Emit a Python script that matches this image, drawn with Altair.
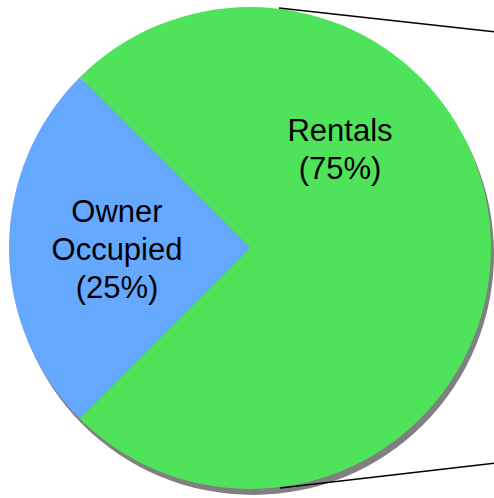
import math
import altair as alt
import pandas as pd

categories = ["Rentals", "Owner Occupied"]
shares = [75, 25]
labels = ["Rentals\n(75%)", "Owner\nOccupied\n(25%)"]
colors = ["#4fe35b", "#64a8ff"]

df = pd.DataFrame({
    "category": categories,
    "share": shares,
    "label": labels,
    "order": [0, 1],
})

start = 7 * math.pi / 4
theta_scale = alt.Scale(domain=[0, 100], range=[start, start + 2 * math.pi])

base = alt.Chart(df)

shadow = base.mark_arc(radius=241, color="#808080").encode(
    theta=alt.Theta("share:Q", stack=True, scale=theta_scale),
    order=alt.Order("order:Q"),
    x=alt.value(253),
    y=alt.value(254),
)

pie = base.mark_arc(radius=241).encode(
    theta=alt.Theta("share:Q", stack=True, scale=theta_scale),
    order=alt.Order("order:Q"),
    color=alt.Color("category:N", scale=alt.Scale(domain=categories, range=colors), legend=None),
    x=alt.value(250),
    y=alt.value(248),
)

line_top = base.mark_rule(color="black", strokeWidth=1.3).encode(
    x=alt.value(279), y=alt.value(8), x2=alt.value(496), y2=alt.value(32)
).transform_filter(alt.datum.order == 0)
line_bot = base.mark_rule(color="black", strokeWidth=1.3).encode(
    x=alt.value(280), y=alt.value(488), x2=alt.value(496), y2=alt.value(463)
).transform_filter(alt.datum.order == 0)

text_style = dict(font="Liberation Sans", fontSize=31, lineBreak="\n", lineHeight=38,
                  align="center", baseline="alphabetic", color="black")

txt_rent = base.mark_text(**text_style).encode(
    text="label:N", x=alt.value(340), y=alt.value(141)
).transform_filter(alt.datum.order == 0)
txt_own = base.mark_text(**text_style).encode(
    text="label:N", x=alt.value(117), y=alt.value(222)
).transform_filter(alt.datum.order == 1)

chart = alt.layer(shadow, pie, line_top, line_bot, txt_rent, txt_own).properties(
    width=494, height=498, autosize=alt.AutoSizeParams(type="none"), padding=0
).configure_view(stroke=None)

chart.save("out.html", embed_options={"renderer": "svg", "actions": False})
